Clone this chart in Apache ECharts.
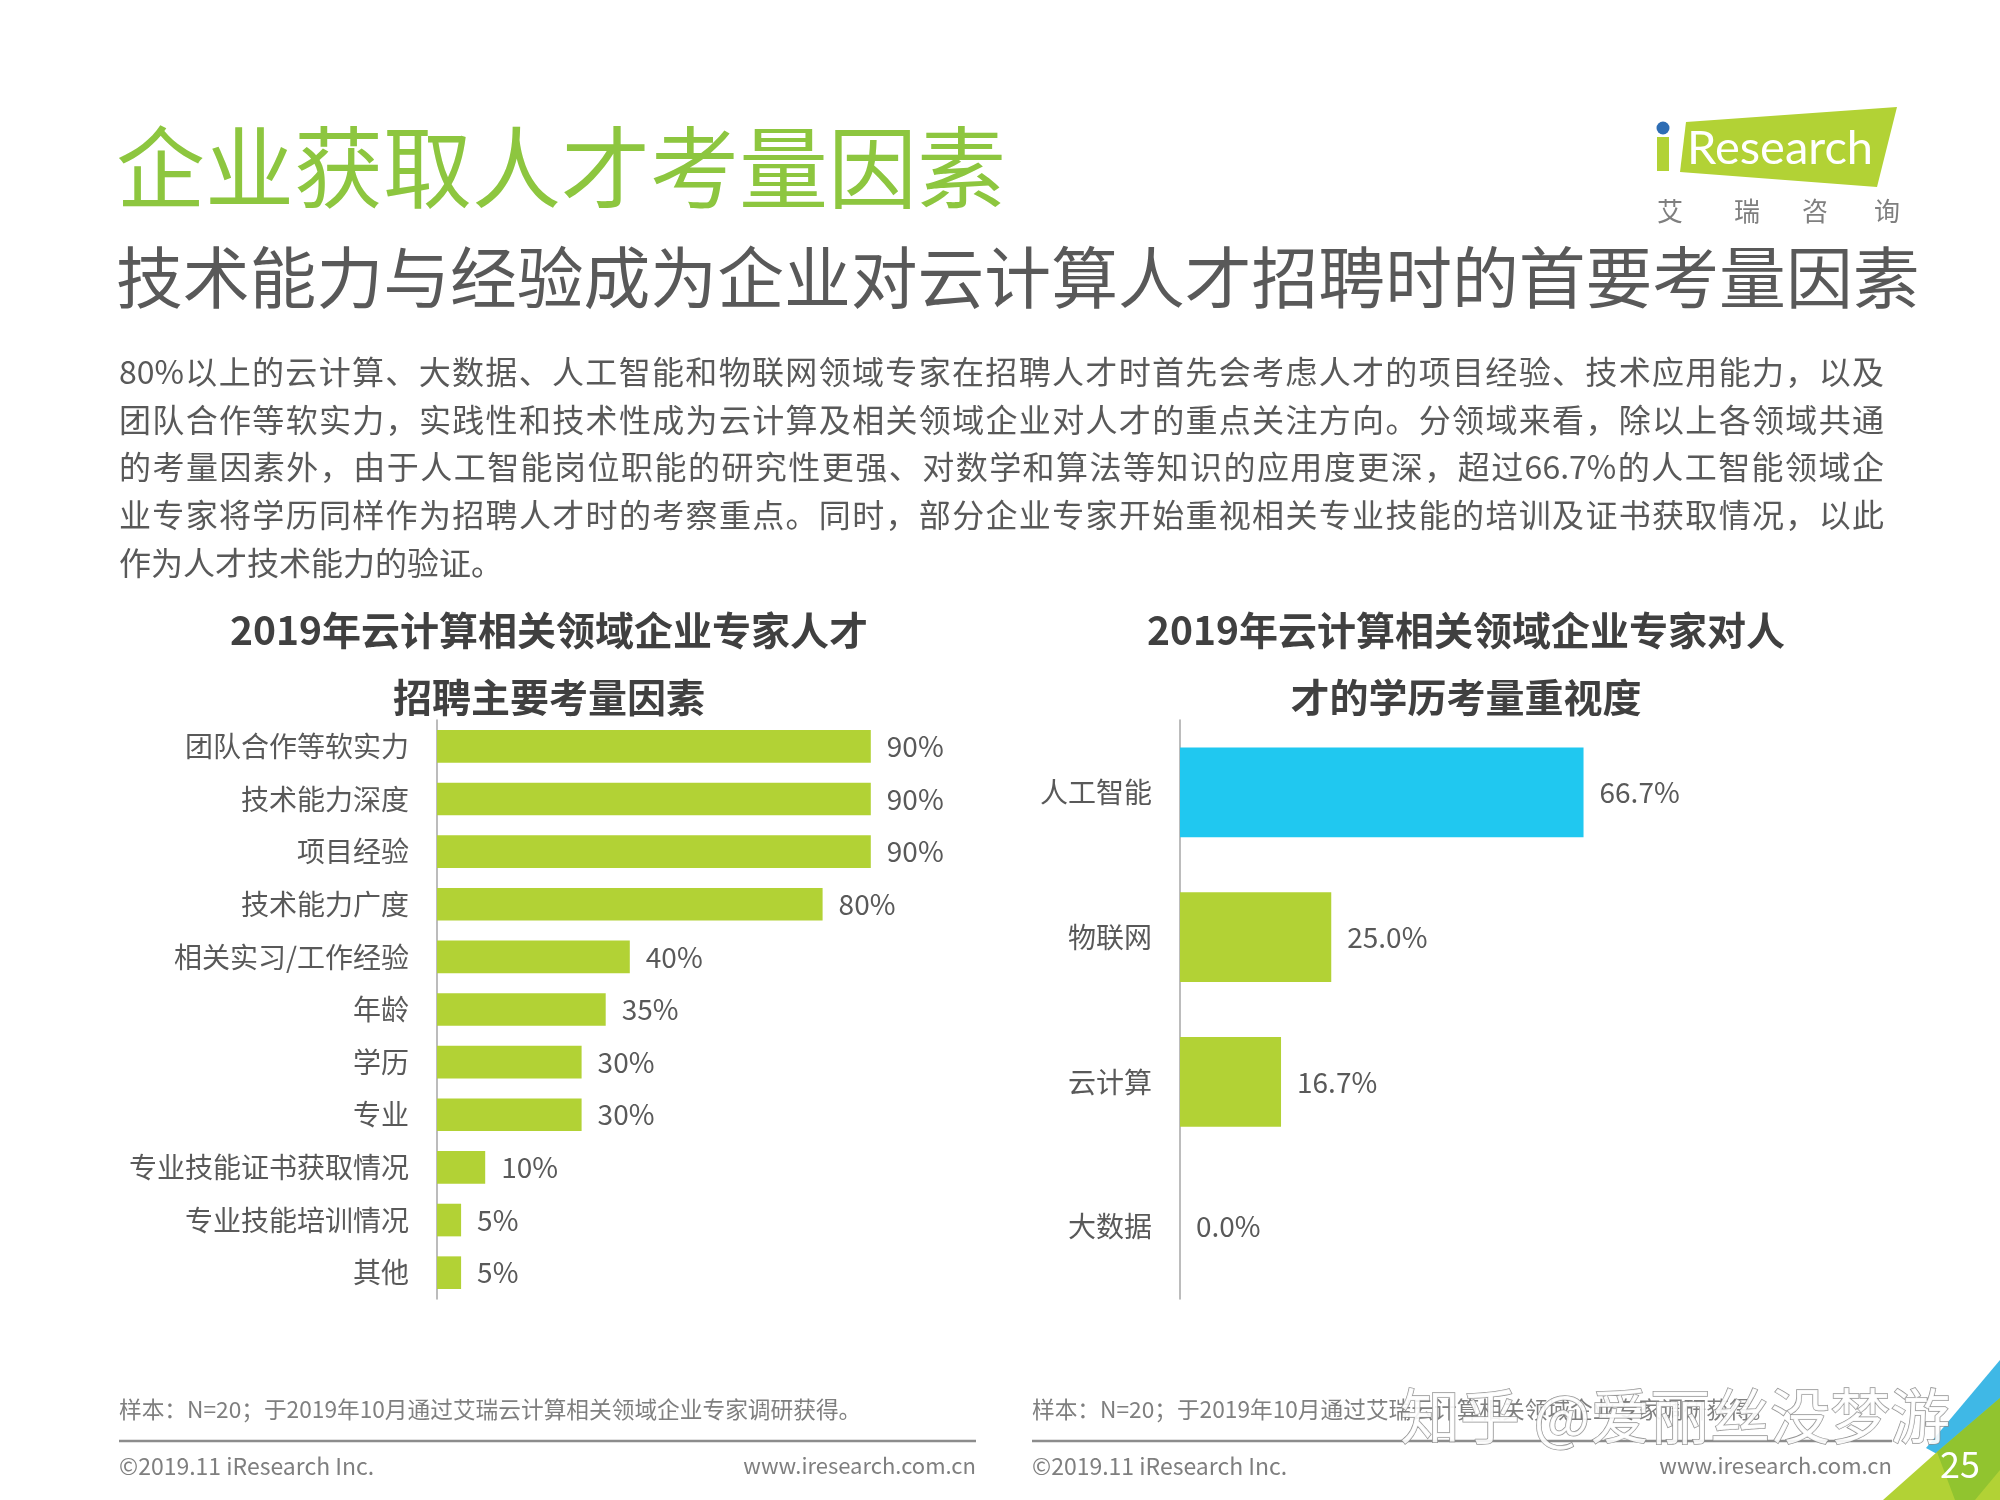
<!DOCTYPE html>
<html><head><meta charset="utf-8">
<script src="https://cdn.jsdelivr.net/npm/echarts@6/dist/echarts.min.js"></script>
<style>html,body{margin:0;padding:0;background:#fff;}#c{width:2000px;height:1500px;}</style>
</head><body><div id="c"></div>
<script>
// ---- data ----
const leftCategories = ['团队合作等软实力','技术能力深度','项目经验','技术能力广度','相关实习/工作经验','年龄','学历','专业','专业技能证书获取情况','专业技能培训情况','其他'];
const leftValues = [90,90,90,80,40,35,30,30,10,5,5];
const rightCategories = ['人工智能','物联网','云计算','大数据'];
const rightValues = [66.7,25.0,16.7,0.0];
const rightHighlight = '人工智能';

const titleText = '企业获取人才考量因素';
const subtitleText = '技术能力与经验成为企业对云计算人才招聘时的首要考量因素';
const paragraphLines = [
 '80%以上的云计算、大数据、人工智能和物联网领域专家在招聘人才时首先会考虑人才的项目经验、技术应用能力，以及',
 '团队合作等软实力，实践性和技术性成为云计算及相关领域企业对人才的重点关注方向。分领域来看，除以上各领域共通',
 '的考量因素外，由于人工智能岗位职能的研究性更强、对数学和算法等知识的应用度更深，超过66.7%的人工智能领域企',
 '业专家将学历同样作为招聘人才时的考察重点。同时，部分企业专家开始重视相关专业技能的培训及证书获取情况，以此',
 '作为人才技术能力的验证。'
];
const leftTitle = ['2019年云计算相关领域企业专家人才','招聘主要考量因素'];
const rightTitle = ['2019年云计算相关领域企业专家对人','才的学历考量重视度'];
const footnote = '样本：N=20；于2019年10月通过艾瑞云计算相关领域企业专家调研获得。';
const copyright = '©2019.11 iResearch Inc.';
const website = 'www.iresearch.com.cn';
const pageNo = '25';
const watermark = '知乎 @爱丽丝没梦游';

// ---- styles ----
const FONT = '"Noto Sans CJK SC","Noto Sans",sans-serif';
const GREEN = '#B2D235';
const BLUE = '#20C8F0';
const TXT = '#595959';
const AXIS = '#A6A6A6';

function T(x, y, text, size, color, opt) {
  opt = opt || {};
  return {
    type: 'text', x: x, y: y, z: opt.z || 10,
    style: {
      text: text, fill: color, fontSize: size, fontFamily: FONT,
      fontWeight: opt.weight || 'normal',
      align: opt.align || 'left', textAlign: opt.align || 'left',
      verticalAlign: 'middle', textVerticalAlign: 'middle',
      stroke: opt.stroke, lineWidth: opt.lineWidth || 0, opacity: opt.opacity == null ? 1 : opt.opacity
    }
  };
}

const graphics = [];
// titles
graphics.push(T(116, 167, titleText, 89, '#8DC63F'));
graphics.push(T(116, 278, subtitleText, 66.8, TXT));

// justified paragraph
(function () {
  const cv = document.createElement('canvas');
  const ctx = cv.getContext('2d');
  const size = 32;
  ctx.font = size + 'px ' + FONT;
  const x0 = 119, x1 = 1884, y0 = 372, dy = 47.6;
  paragraphLines.forEach(function (line, i) {
    const tokens = line.match(/[0-9.%]+|./g);
    const widths = tokens.map(t => ctx.measureText(t).width);
    const total = widths.reduce((a, b) => a + b, 0);
    const justify = i < paragraphLines.length - 1;
    const gap = justify ? (x1 - x0 - total) / (tokens.length - 1) : 0;
    let x = x0;
    tokens.forEach(function (t, k) {
      graphics.push(T(x, y0 + i * dy, t, size, TXT));
      x += widths[k] + gap;
    });
  });
})();

// chart titles
graphics.push(T(549, 630, leftTitle[0], 39, '#404040', {align: 'center', weight: 'bold'}));
graphics.push(T(549, 697, leftTitle[1], 39, '#404040', {align: 'center', weight: 'bold'}));
graphics.push(T(1466, 630, rightTitle[0], 39, '#404040', {align: 'center', weight: 'bold'}));
graphics.push(T(1466, 697, rightTitle[1], 39, '#404040', {align: 'center', weight: 'bold'}));

// footers
[[119, 976], [1032, 1892]].forEach(function (p) {
  graphics.push(T(p[0], 1409, footnote, 22.7, '#7F7F7F'));
  graphics.push({type: 'line', shape: {x1: p[0], y1: 1441, x2: p[1], y2: 1441}, style: {stroke: '#8C8C8C', lineWidth: 2.5}});
  graphics.push(T(p[0], 1466, copyright, 23, '#7F7F7F'));
  graphics.push(T(p[1], 1466, website, 22, '#7F7F7F', {align: 'right'}));
});

// corner decoration
graphics.push({type: 'polygon', z: 5, shape: {points: [[1926, 1448], [2000, 1360], [2000, 1402], [1937, 1454]]}, style: {fill: '#3FB8E6'}});
graphics.push({type: 'polygon', z: 5, shape: {points: [[1883, 1500], [1937, 1452], [2000, 1398], [2000, 1500]]}, style: {fill: '#B2D235'}});
graphics.push({type: 'polygon', z: 6, shape: {points: [[1937, 1452], [2000, 1398], [2000, 1470], [1975, 1500], [1955, 1500]]}, style: {fill: '#86BF2E', opacity: 0.75}});
graphics.push(T(1960, 1464, pageNo, 36, '#FFFFFF', {align: 'center', z: 12}));

// watermark
graphics.push(T(1400, 1416, watermark, 60, '#FFFFFF', {stroke: '#8A8A8A', lineWidth: 1.5, opacity: 0.9, z: 20}));

// logo
graphics.push({type: 'polygon', shape: {points: [[1686, 122], [1897, 107], [1877, 187], [1680, 172]]}, style: {fill: GREEN}});
graphics.push({type: 'circle', shape: {cx: 1663, cy: 128, r: 6.5}, style: {fill: '#2E6DB4'}});
graphics.push({type: 'rect', shape: {x: 1657, y: 137, width: 12, height: 34}, style: {fill: GREEN}});
graphics.push({type: 'text', x: 1687, y: 149, z: 11, style: {text: 'Research', fill: '#FFFFFF', fontSize: 47, fontFamily: 'Lato, "Open Sans", sans-serif', align: 'left', textAlign: 'left', verticalAlign: 'middle', textVerticalAlign: 'middle'}});
[['艾', 1670], ['瑞', 1747], ['咨', 1815], ['询', 1887]].forEach(function (c) {
  graphics.push(T(c[1], 211, c[0], 26, '#7F7F7F', {align: 'center'}));
});

const labelStyle = {color: TXT, fontSize: 28, fontFamily: FONT};

const option = {
  backgroundColor: '#FFFFFF',
  animation: false,
  graphic: graphics,
  grid: [
    {left: 437, top: 720, width: 482, height: 579, containLabel: false},
    {left: 1180, top: 720, width: 605, height: 579, containLabel: false}
  ],
  xAxis: [
    {gridIndex: 0, type: 'value', min: 0, max: 100, show: false},
    {gridIndex: 1, type: 'value', min: 0, max: 100, show: false}
  ],
  yAxis: [
    {gridIndex: 0, type: 'category', data: leftCategories, inverse: true,
     axisLine: {show: true, lineStyle: {color: AXIS, width: 1.5}}, axisTick: {show: false}, splitLine: {show: false},
     axisLabel: {color: TXT, fontSize: 28, fontFamily: FONT, margin: 28}},
    {gridIndex: 1, type: 'category', data: rightCategories, inverse: true,
     axisLine: {show: true, lineStyle: {color: AXIS, width: 1.5}}, axisTick: {show: false}, splitLine: {show: false},
     axisLabel: {color: TXT, fontSize: 28, fontFamily: FONT, margin: 28}}
  ],
  series: [
    {type: 'bar', xAxisIndex: 0, yAxisIndex: 0, data: leftValues, barCategoryGap: '38%',
     itemStyle: {color: GREEN},
     label: Object.assign({show: true, position: 'right', distance: 16, formatter: p => p.value + '%'}, labelStyle)},
    {type: 'bar', xAxisIndex: 1, yAxisIndex: 1, barCategoryGap: '38%',
     data: rightValues.map((v, i) => ({value: v, itemStyle: {color: rightCategories[i] === rightHighlight ? BLUE : GREEN}})),
     label: Object.assign({show: true, position: 'right', distance: 16, formatter: p => Number(p.value).toFixed(1) + '%'}, labelStyle)}
  ]
};
const chart = echarts.init(document.getElementById('c'), null, {renderer: 'canvas', width: 2000, height: 1500});
chart.setOption(option);
</script>
</body></html>
